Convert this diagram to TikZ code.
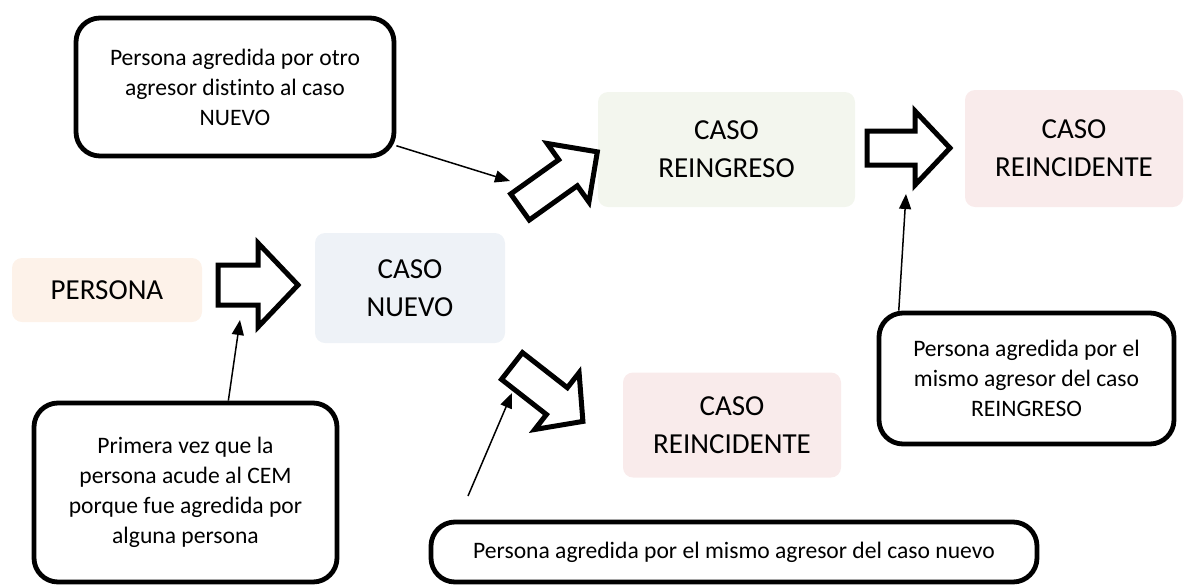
\documentclass[tikz,border=0pt]{standalone}
\usepackage{fontspec}
\setmainfont{Carlito}[Ligatures={NoCommon,NoRequired,NoContextual}]
\usetikzlibrary{arrows.meta}
\definecolor{cPersona}{HTML}{FDF2E9}
\definecolor{cNuevo}{HTML}{EEF2F7}
\definecolor{cReingreso}{HTML}{F3F6EE}
\definecolor{cReincid}{HTML}{F9EBEB}
\tikzset{
  casebox/.style={rounded corners=5pt, align=center, inner sep=0pt,
    font=\fontsize{14.5}{19}\selectfont},
  callout/.style={draw, line width=2.4pt, rounded corners=12pt, align=center,
    inner sep=0pt, font=\fontsize{11.8}{15}\selectfont},
  blk/.style={draw, line width=2.5pt, fill=white, line join=miter},
  conn/.style={-{Triangle[length=7.5pt,width=6pt]}, line width=0.75pt},
  pics/barrow/.style n args={4}{code={
    \draw[blk] (0,#1) -- ({#3-#4},#1) -- ({#3-#4},#2) -- (#3,0)
      -- ({#3-#4},-#2) -- ({#3-#4},-#1) -- (0,-#1) -- cycle;}}
}
\begin{document}
\begin{tikzpicture}[x=0.5pt,y=-0.5pt]
\useasboundingbox (0,0) rectangle (1185,585);
% case boxes
\node[casebox, fill=cPersona, minimum width=95pt, minimum height=32pt] (persona) at (107,290) {PERSONA};
\node[casebox, fill=cNuevo, minimum width=95pt, minimum height=55pt] (nuevo) at (410,288) {CASO\\NUEVO};
\node[casebox, fill=cReingreso, minimum width=128.5pt, minimum height=57.5pt] (reingreso) at (726.5,149.5) {CASO\\REINGRESO};
\node[casebox, fill=cReincid, minimum width=109pt, minimum height=58.5pt] (reincA) at (1074,148.5) {CASO\\REINCIDENTE};
\node[casebox, fill=cReincid, minimum width=109pt, minimum height=52.5pt] (reincB) at (732,425) {CASO\\REINCIDENTE};
% callouts
\node[callout, minimum width=159pt, minimum height=69pt] (c1) at (235,87)
  {Persona agredida por otro\\agresor distinto al caso\\NUEVO};
\node[callout, minimum width=151.5pt, minimum height=89.5pt] (c2) at (185.5,492.5)
  {Primera vez que la\\persona acude al CEM\\porque fue agredida por\\alguna persona};
\node[callout, minimum width=147.5pt, minimum height=65.5pt] (c3) at (1026.5,378.5)
  {Persona agredida por el\\mismo agresor del caso\\REINGRESO};
\node[callout, minimum width=303pt, minimum height=30pt] (c4) at (734,552)
  {Persona agredida por el mismo agresor del caso nuevo};
% block arrows
\pic at (218,285) {barrow={20}{42}{80}{40}};
\pic[rotate=35.5] at (520,207) {barrow={16}{36}{95}{36}};
\pic[rotate=-38] at (512,366) {barrow={17}{36}{90}{33}};
\pic at (867,148) {barrow={17}{37}{83}{35}};
% connector ends
\coordinate (t1) at (510,181);
\coordinate (t2) at (240,320);
\coordinate (t3) at (906,194);
\coordinate (t4) at (512,393);
\coordinate (s4) at (468,496);
\draw[conn] (c1.-20) -- (t1);
\draw[conn] (c2.65) -- (t2);
\draw[conn] (c3.152) -- (t3);
\draw[conn] (s4) -- (t4);
\end{tikzpicture}
\end{document}
